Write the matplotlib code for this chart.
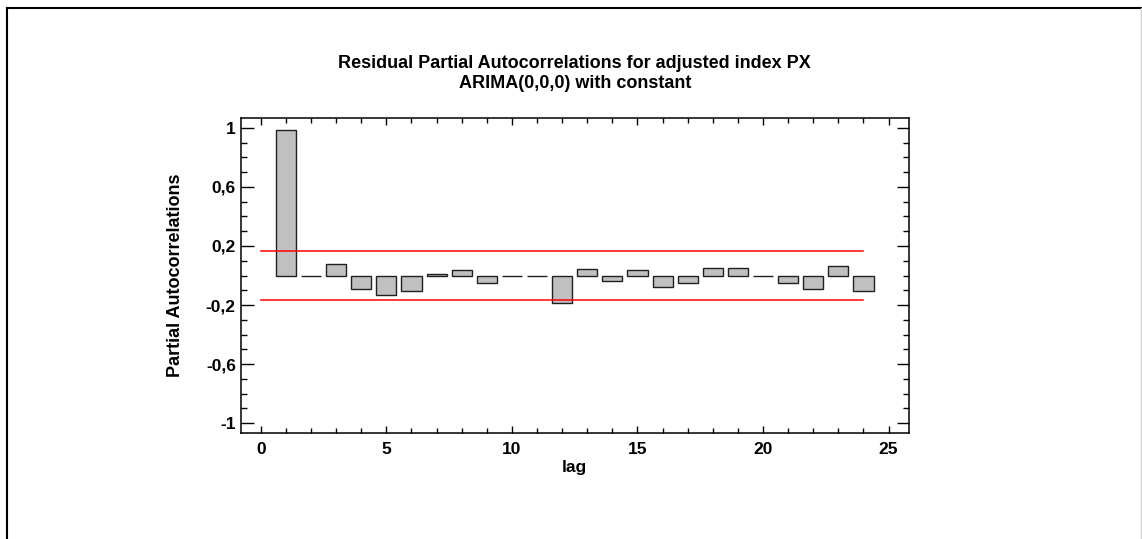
import matplotlib
matplotlib.use("Agg")
import matplotlib.pyplot as plt
from matplotlib.ticker import MultipleLocator, FuncFormatter
from matplotlib.lines import Line2D

lags = list(range(1, 25))
pacf = [0.984, -0.002, 0.076, -0.090, -0.133, -0.104, 0.008, 0.040,
        -0.052, 0.000, -0.005, -0.187, 0.047, -0.034, 0.040, -0.081,
        -0.054, 0.054, 0.049, 0.000, -0.054, -0.094, 0.065, -0.108]
upper_limit = 0.168
lower_limit = -0.168
limit_lags = [0, 24]

title = "Residual Partial Autocorrelations for adjusted index PX\nARIMA(0,0,0) with constant"
xlabel = "lag"
ylabel = "Partial Autocorrelations"

plt.rcParams['font.family'] = ['Liberation Sans', 'DejaVu Sans']
plt.rcParams['font.weight'] = 'bold'

W, H = 1142, 539
fig = plt.figure(figsize=(W / 100, H / 100), dpi=100)
ax = fig.add_axes([240.7 / W, 1 - 432.7 / H, (908.7 - 240.7) / W, (432.7 - 118.3) / H])

ax.bar(lags, pacf, width=0.8, color='#c0c0c0', edgecolor='#202020', linewidth=1.0)
ax.plot(limit_lags, [upper_limit, upper_limit], color='#ff0000', lw=1.1)
ax.plot(limit_lags, [lower_limit, lower_limit], color='#ff0000', lw=1.1)

ax.set_xlim(-0.8, 25.8)
ax.set_ylim(-1.064, 1.064)
ax.xaxis.set_major_locator(MultipleLocator(5))
ax.xaxis.set_minor_locator(MultipleLocator(1))
ax.yaxis.set_major_locator(MultipleLocator(0.4, offset=0.2))
ax.yaxis.set_minor_locator(MultipleLocator(0.1))
ax.yaxis.set_major_formatter(FuncFormatter(lambda v, p: ('%g' % round(v, 2)).replace('.', ',')))

ax.tick_params(axis='both', which='both', direction='in', top=True, right=True,
               labelsize=12.5, width=1.0, colors='black')
ax.tick_params(axis='y', which='major', length=9, pad=3.5)
ax.tick_params(axis='y', which='minor', length=4.5)
ax.tick_params(axis='x', which='major', length=5, pad=6.5)
ax.tick_params(axis='x', which='minor', length=3.5)
for s in ax.spines.values():
    s.set_linewidth(1.1)

ax.set_xlabel(xlabel, fontsize=12.5, fontweight='bold', labelpad=2)
ax.set_ylabel(ylabel, fontsize=13, fontweight='bold', labelpad=16)
ax.set_title(title, fontsize=13, fontweight='bold', pad=22, linespacing=1.22)

# outer frame
fig.add_artist(Line2D([6.5 / W, 6.5 / W], [0, 1 - 8 / H], transform=fig.transFigure, color='black', lw=1.5))
fig.add_artist(Line2D([6.5 / W, 1], [1 - 8 / H, 1 - 8 / H], transform=fig.transFigure, color='black', lw=1.5))
fig.add_artist(Line2D([1140.5 / W, 1140.5 / W], [0, 1 - 8 / H], transform=fig.transFigure, color='#d0d0d0', lw=1.0))

fig.savefig('out.png', dpi=100)
